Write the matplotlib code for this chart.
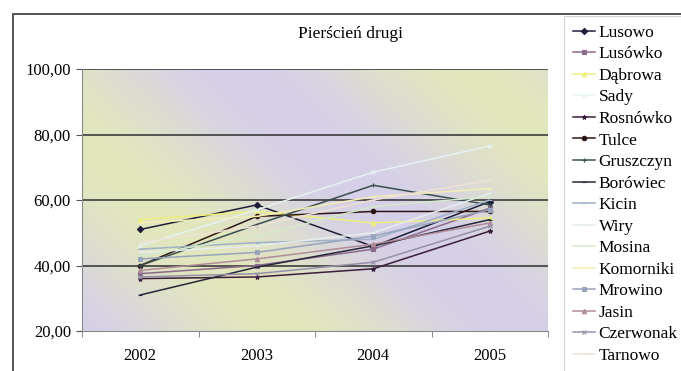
import numpy as np
import matplotlib
matplotlib.use("Agg")
from matplotlib import pyplot as plt
from matplotlib.patches import Rectangle
from matplotlib.colors import to_rgb

# values per village, 2002-2005
years = ["2002", "2003", "2004", "2005"]
names = [
    "Lusowo", "Lusówko", "Dąbrowa", "Sady", "Rosnówko", "Tulce",
    "Gruszczyn", "Borówiec", "Kicin", "Wiry", "Mosina", "Komorniki",
    "Mrowino", "Jasin", "Czerwonak", "Tarnowo",
]
lusowo = [51.0, 58.5, 45.8, 59.5]
lusowko = [37.5, 40.0, 45.0, 57.5]
dabrowa = [54.0, 56.5, 53.0, 54.5]
sady = [46.0, 57.0, 68.5, 76.5]
rosnowko = [36.0, 36.5, 39.0, 50.5]
tulce = [40.0, 55.0, 56.5, 56.5]
gruszczyn = [40.0, 52.5, 64.5, 58.5]
borowiec = [31.0, 39.5, 46.0, 54.0]
kicin = [45.0, 47.0, 48.0, 60.0]
wiry = [44.0, 46.0, 50.0, 62.0]
mosina = [43.0, 49.0, 58.0, 61.0]
komorniki = [53.0, 55.0, 61.0, 63.5]
mrowino = [42.0, 44.0, 49.0, 57.0]
jasin = [38.5, 42.0, 46.5, 53.0]
czerwonak = [36.5, 37.5, 41.0, 52.0]
tarnowo = [47.0, 52.0, 60.0, 66.0]

series = [lusowo, lusowko, dabrowa, sady, rosnowko, tulce, gruszczyn,
          borowiec, kicin, wiry, mosina, komorniki, mrowino, jasin,
          czerwonak, tarnowo]

colors = ["#1e1e38", "#8a6a8a", "#eeee7a", "#e6f2f2", "#3a1e3a", "#2e1616",
          "#3a4e4e", "#262638", "#9fb2c6", "#e6eeee", "#d4eacc", "#f2eeb4",
          "#98a4bc", "#b08c9a", "#9690a8", "#eee2d4"]
markers = ["D", "s", "^", "x", "*", "o", "+", "_", "_", "_", "_", "_",
           "s", "^", "x", "_"]

plt.rcParams["font.family"] = ["Liberation Serif", "DejaVu Serif"]

W, H = 681, 371
fig = plt.figure(figsize=(W / 100, H / 100), dpi=100)
fig.patch.set_facecolor("white")

# outer chart frame
fig.patches.append(Rectangle((13 / W, -0.02), 1.0, 1 - 14 / H + 0.02,
                             transform=fig.transFigure, fill=False,
                             edgecolor="#555555", linewidth=1.4))

ax = fig.add_axes([82 / W, 40 / H, 466 / W, 262 / H])
ax.set_xlim(-0.5, 3.5)
ax.set_ylim(20, 100)

# pastel plot-area fill with diagonal bands
gx, gy = np.meshgrid(np.linspace(0, 1, 300), np.linspace(0, 1, 200))
t = 0.5 + 0.5 * np.sin(7.0 * (0.9 * gx + 0.55 * gy) - 1.2)
lav = np.array(to_rgb("#d6cfea"))
yel = np.array(to_rgb("#e2e7bd"))
img = lav[None, None, :] * (1 - t[..., None]) + yel[None, None, :] * t[..., None]
ax.imshow(img, extent=(-0.5, 3.5, 20, 100), origin="lower", aspect="auto",
          zorder=0)

for y in [40, 60, 80, 100]:
    ax.axhline(y, color="#2e2e2e", linewidth=1.1, zorder=1)

x = np.arange(len(years))
for name, vals, c, m in zip(names, series, colors, markers):
    ax.plot(x, vals, color=c, linewidth=1.1, marker=m, markersize=3.2,
            markeredgewidth=0.8, label=name, zorder=3)

ax.set_xticks(x)
ax.set_xticklabels(years)
ax.set_xticks(np.arange(-0.5, 4.0, 1.0), minor=True)
ax.set_yticks([20, 40, 60, 80, 100])
ax.set_yticklabels(["20,00", "40,00", "60,00", "80,00", "100,00"])
ax.tick_params(axis="x", which="major", length=0, pad=12, labelsize=12)
ax.tick_params(axis="x", which="minor", length=4, color="#777777")
ax.tick_params(axis="y", length=4, color="#555555", pad=4, labelsize=12)
for s in ["left", "bottom"]:
    ax.spines[s].set_color("#8a8a8a")
for s in ["top", "right"]:
    ax.spines[s].set_visible(False)

fig.text(350 / W, 1 - 34 / H, "Pierścień drugi", ha="center", va="center",
         fontsize=12.5)

leg = fig.legend(loc="upper left", bbox_to_anchor=(564 / W, 1 - 16 / H),
                 frameon=True, fancybox=False, fontsize=12.5,
                 handlelength=1.3, handletextpad=0.2, labelspacing=0.31,
                 borderpad=0.5, borderaxespad=0)
leg.get_frame().set_edgecolor("#c8c8c8")
leg.get_frame().set_linewidth(0.8)

fig.savefig("out.png", dpi=100)
